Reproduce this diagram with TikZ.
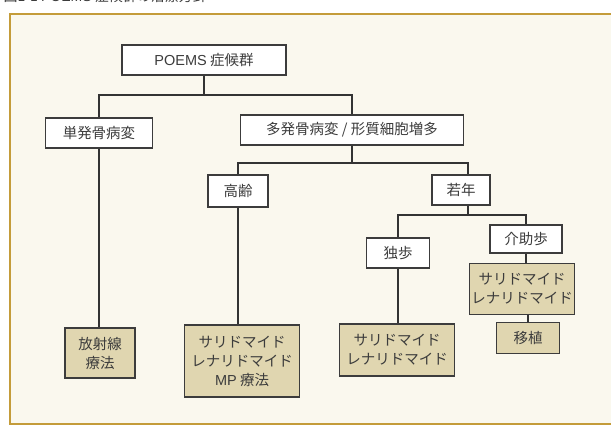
\documentclass[tikz,border=0pt]{standalone}
\usepackage{fontspec}
\setmainfont{Noto Sans CJK JP}
\newfontfamily\latinfont{Liberation Sans}
\definecolor{frameGold}{RGB}{196,156,58}
\definecolor{paper}{RGB}{250,248,238}
\definecolor{boxTan}{RGB}{224,214,176}
\definecolor{inkGray}{RGB}{60,60,60}
\begin{document}
\begin{tikzpicture}[x=1pt,y=-1pt,
  plainbox/.style={draw=inkGray,line width=1.1pt,fill=white,text=inkGray,font=\fontsize{14.5}{19}\selectfont,inner sep=0pt,align=center,minimum height=30pt},
  treatbox/.style={plainbox,fill=boxTan},
  link/.style={draw=black!80,line width=1.1pt}]
\useasboundingbox (0,0) rectangle (611,427);
\clip (0,0) rectangle (611,427);
\fill[white] (0,0) rectangle (611,427);
\fill[paper] (10,14) rectangle (615,424);
\draw[frameGold,line width=1.8pt] (615,14) -- (10,14) -- (10,424) -- (615,424);
\node[anchor=base west,text=inkGray,font=\fontsize{14}{16}\selectfont] (title) at (0,2) {図1-1 {\latinfont POEMS} 症候群の治療方針};

\node[plainbox,minimum width=164pt] (poems) at (204,60) {{\latinfont POEMS} 症候群};
\node[plainbox,minimum width=107pt] (single) at (99,133) {単発骨病変};
\node[plainbox,minimum width=223pt] (multi) at (352,130) {多発骨病変 / 形質細胞増多};
\node[plainbox,minimum width=60pt,minimum height=32pt] (old) at (238,191) {高齢};
\node[plainbox,minimum width=58pt] (young) at (461,190) {若年};
\node[plainbox,minimum width=63pt] (walk) at (398,253) {独歩};
\node[plainbox,minimum width=72pt,minimum height=28pt] (assist) at (526,239) {介助歩};

\node[treatbox,minimum width=70pt,minimum height=50pt] (rad) at (100,353) {放射線\\療法};
\node[treatbox,minimum width=115pt,minimum height=72pt] (mp) at (242,361) {サリドマイド\\レナリドマイド\\{\latinfont MP} 療法};
\node[treatbox,minimum width=115pt,minimum height=52pt] (tl1) at (397,350) {サリドマイド\\レナリドマイド};
\node[treatbox,minimum width=105pt,minimum height=51pt] (tl2) at (522,289) {サリドマイド\\レナリドマイド};
\node[treatbox,minimum width=63pt,minimum height=31pt] (sct) at (528,338) {移植};

\coordinate (j1) at (204,95);
\coordinate (j2) at (352,163);
\coordinate (j3) at (468,215);
\draw[link] (poems.south) -- (j1);
\draw[link] (single.north) |- (j1) -| (multi.north);
\draw[link] (single.south) -- (single.south |- rad.north);
\draw[link] (multi.south) -- (j2);
\draw[link] (old.north) |- (j2) -| (young.north -| j3);
\draw[link] (old.south) -- (old.south |- mp.north);
\draw[link] (young.south -| j3) -- (j3);
\draw[link] (walk.north) |- (j3) -| (assist.north);
\draw[link] (walk.south) -- (walk.south |- tl1.north);
\draw[link] (assist.south) -- (tl2.north -| assist.south);
\draw[link] (tl2.south -| sct.north) -- (sct.north);
\end{tikzpicture}
\end{document}
